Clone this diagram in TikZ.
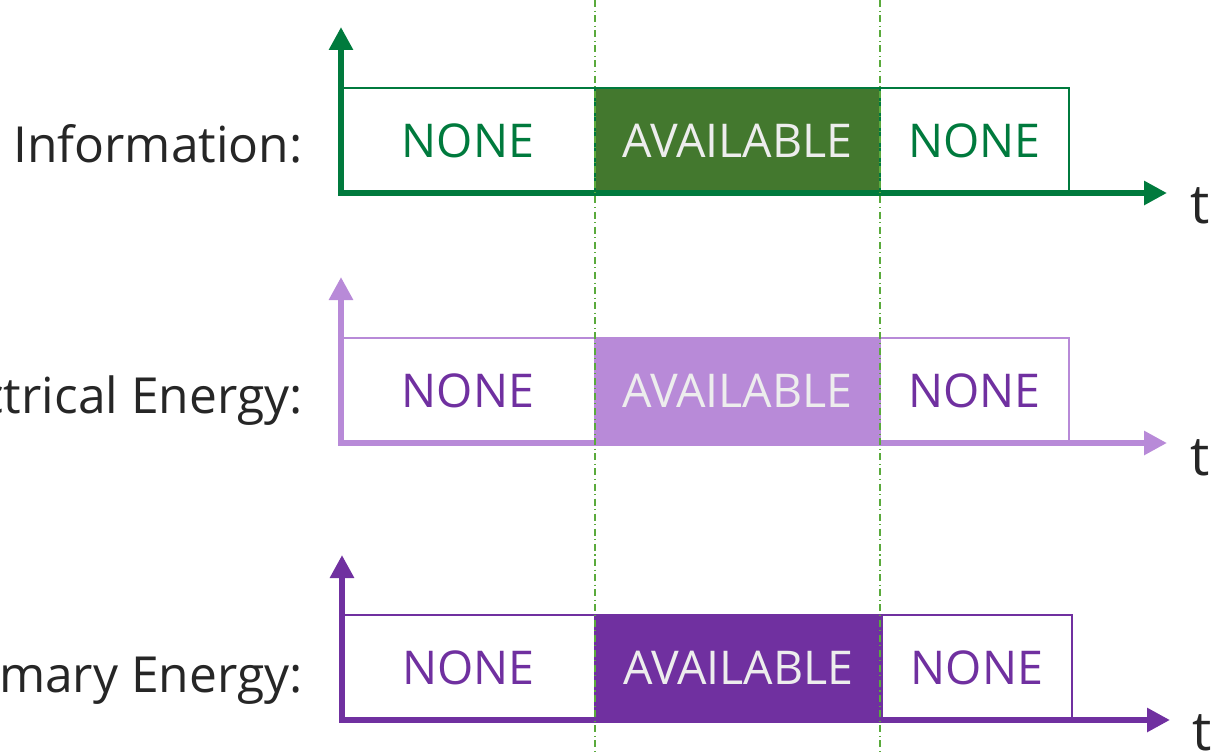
\documentclass[tikz,border=0pt]{standalone}
\usepackage{fontspec}
\setmainfont{Open Sans}
\usetikzlibrary{arrows.meta}

\definecolor{infogreen}{RGB}{0,122,61}
\definecolor{infofill}{RGB}{67,120,46}
\definecolor{elecpurple}{RGB}{184,138,216}
\definecolor{primpurple}{RGB}{112,48,160}
\definecolor{gridgreen}{RGB}{90,170,60}
\definecolor{labelgray}{RGB}{38,38,38}

\tikzset{
  axis/.style={line width=3.4pt, {Triangle[length=0.46cm,width=0.46cm]}-{Triangle[length=0.46cm,width=0.46cm]}},
  slot/.style={draw, line width=1.1pt, anchor=south west, minimum height=2.1cm,
    inner sep=0pt, outer sep=0pt, font=\fontsize{26.5}{30}\selectfont},
  label/.style={anchor=base east, inner sep=0pt, text=labelgray, font=\fontsize{28.3}{32}\selectfont},
  tlabel/.style={anchor=base west, inner sep=0pt, text=labelgray, font=\fontsize{31}{34}\selectfont},
  phase/.style={gridgreen, line width=0.6pt, dash pattern=on 4pt off 2pt on 0.6pt off 2pt}
}

\begin{document}
\begin{tikzpicture}[x=0.02cm, y=-0.02cm]
      \useasboundingbox (0, 0) rectangle (1214, 754);

      % Information
      \coordinate (O1) at (341, 193);
      \coordinate (Y1) at (341, 27);
      \coordinate (T1) at (1167, 193);
      \node[slot, infogreen, text=infogreen, minimum width=5.08cm] (n11) at (O1) {NONE};
      \node[slot, infogreen, fill=infofill, text=white!93!black, minimum width=5.7cm] (a1) at (n11.south east) {AVAILABLE};
      \node[slot, infogreen, text=infogreen, minimum width=3.78cm] (n12) at (a1.south east) {NONE};
      \draw[axis, infogreen] (Y1) -- (O1) -- (T1);
      \node[label] (L1) at (303, 162) {Information:};
      \node[tlabel] (t1) at (1190, 223) {t};

      % Electrical energy
      \coordinate (O2) at (341, 443);
      \coordinate (Y2) at (341, 277);
      \coordinate (T2) at (1167, 443);
      \node[slot, elecpurple, text=primpurple, minimum width=5.08cm] (n21) at (O2) {NONE};
      \node[slot, elecpurple, fill=elecpurple, text=white!93!black, minimum width=5.7cm] (a2) at (n21.south east) {AVAILABLE};
      \node[slot, elecpurple, text=primpurple, minimum width=3.78cm] (n22) at (a2.south east) {NONE};
      \draw[axis, elecpurple] (Y2) -- (O2) -- (T2);
      \node[label] (L2) at (303, 413) {Electrical Energy:};
      \node[tlabel] (t2) at (1190, 475) {t};

      % Primary energy
      \coordinate (O3) at (342, 720);
      \coordinate (Y3) at (342, 555);
      \coordinate (T3) at (1170, 720);
      \node[slot, primpurple, text=primpurple, minimum width=5.06cm] (n31) at (O3) {NONE};
      \node[slot, primpurple, fill=primpurple, text=white!93!black, minimum width=5.74cm] (a3) at (n31.south east) {AVAILABLE};
      \node[slot, primpurple, text=primpurple, minimum width=3.8cm] (n32) at (a3.south east) {NONE};
      \draw[axis, primpurple] (Y3) -- (O3) -- (T3);
      \node[label] (L3) at (303, 692) {Primary Energy:};
      \node[tlabel] (t3) at (1192, 750) {t};

      % Phase boundaries
      \draw[phase] (595, 0) -- (595, 754);
      \draw[phase] (880, 0) -- (880, 754);
\end{tikzpicture}
\end{document}
